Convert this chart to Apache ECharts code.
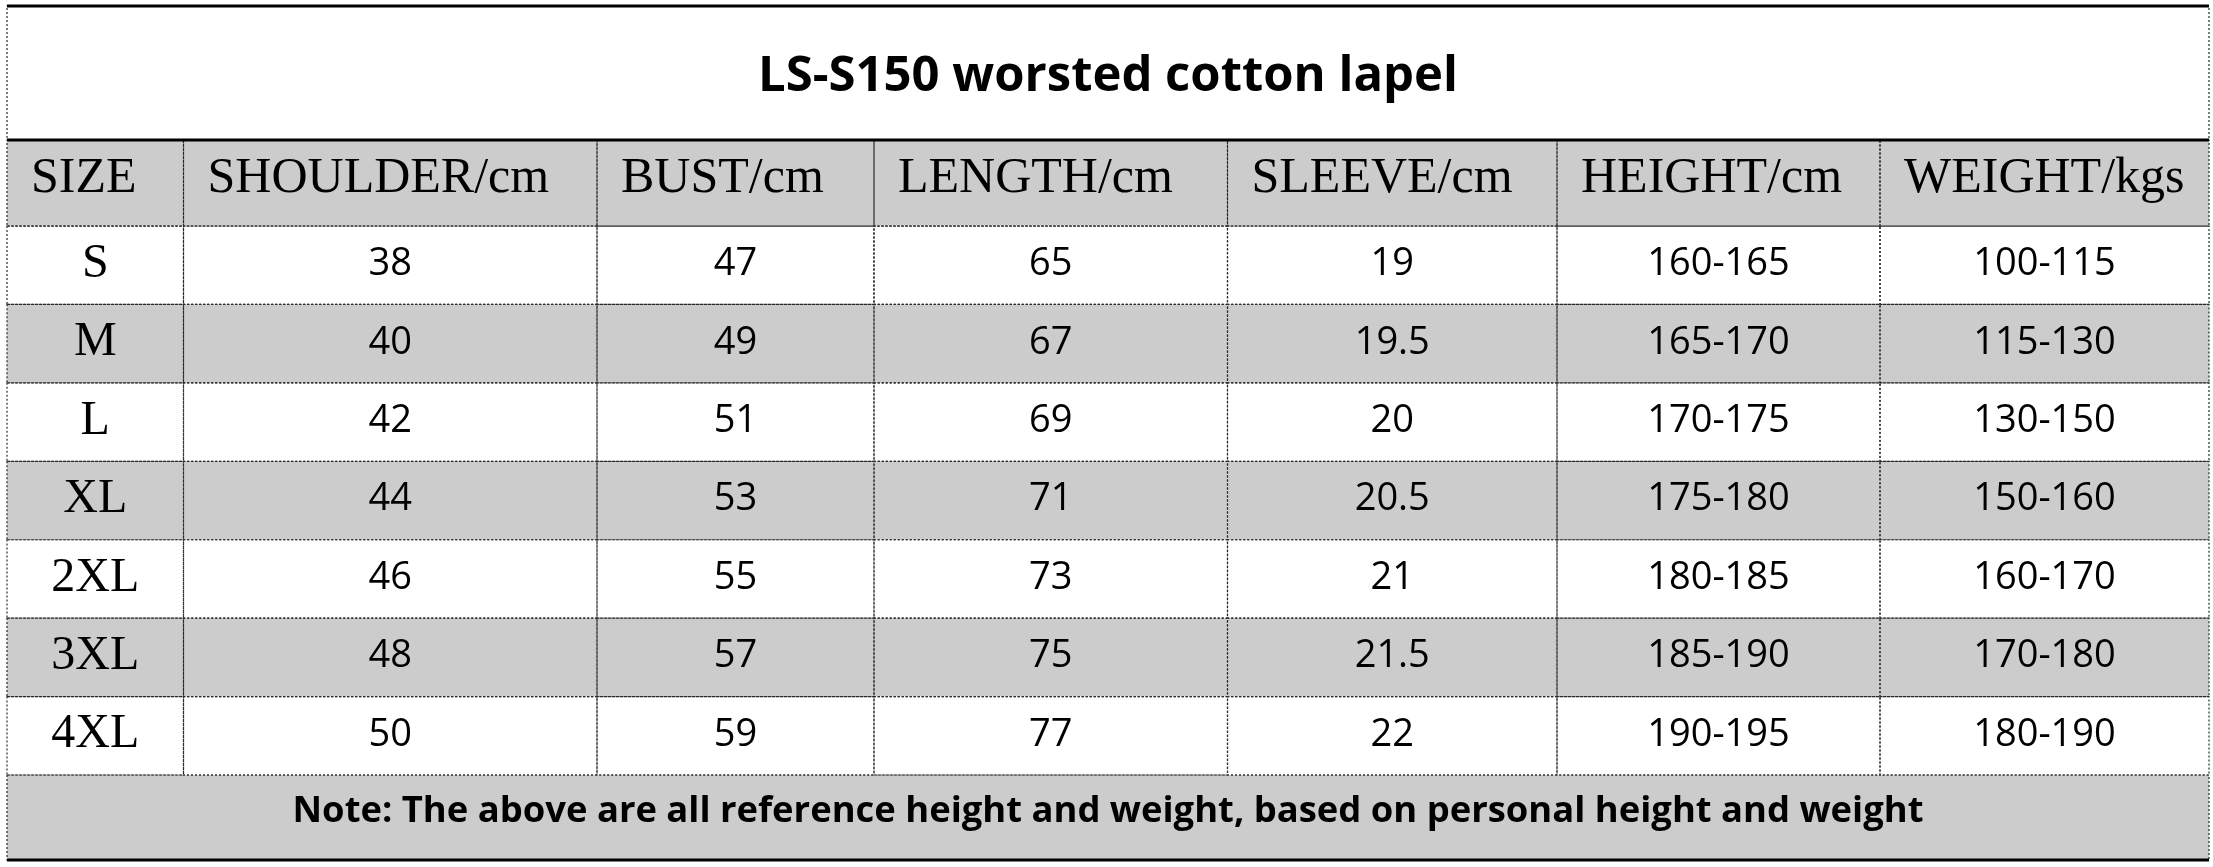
<!DOCTYPE html>
<html>
<head>
<meta charset="utf-8">
<script src="https://cdn.jsdelivr.net/npm/echarts@6/dist/echarts.min.js"></script>
<style>
html,body{margin:0;padding:0;background:#fff;}
#main{width:2213px;height:867px;}
</style>
</head>
<body>
<div id="main"></div>
<script>
// ---------- data ----------
const title = 'LS-S150 worsted cotton lapel';
const headers = ['SIZE', 'SHOULDER/cm', 'BUST/cm', 'LENGTH/cm', 'SLEEVE/cm', 'HEIGHT/cm', 'WEIGHT/kgs'];
const sizes = ['S', 'M', 'L', 'XL', '2XL', '3XL', '4XL'];
const shoulder = [38, 40, 42, 44, 46, 48, 50];
const bust = [47, 49, 51, 53, 55, 57, 59];
const lengthCm = [65, 67, 69, 71, 73, 75, 77];
const sleeve = [19, 19.5, 20, 20.5, 21, 21.5, 22];
const heightRange = ['160-165', '165-170', '170-175', '175-180', '180-185', '185-190', '190-195'];
const weightRange = ['100-115', '115-130', '130-150', '150-160', '160-170', '170-180', '180-190'];
const note = 'Note: The above are all reference height and weight, based on personal height and weight';

// ---------- layout (sizes in axis units) ----------
const layout = {
  colWidths: [176.5, 413.5, 277, 353.5, 329.5, 323, 329],
  titleH: 134,
  headerH: 86,
  rowH: 78.4,
  noteH: 85
};
const colEdges = [0];
layout.colWidths.forEach(w => colEdges.push(colEdges[colEdges.length - 1] + w));
const rowEdges = [0, layout.titleH, layout.titleH + layout.headerH];
sizes.forEach(() => rowEdges.push(rowEdges[rowEdges.length - 1] + layout.rowH));
rowEdges.push(rowEdges[rowEdges.length - 1] + layout.noteH);
const totalW = colEdges[colEdges.length - 1];
const totalH = rowEdges[rowEdges.length - 1];

const GRAY = '#cccccc';
const styles = {
  title: { font: 'bold 49px "Open Sans"', align: 'center', dy: 4 },
  header: { font: '50px "Liberation Serif"', align: 'left', dy: -4 },
  size: { font: '48px "Liberation Serif"', align: 'center', dy: -1 },
  value: { font: '38px "Open Sans"', align: 'center', dy: -1 },
  note: { font: 'bold 36.4px "Open Sans"', align: 'center', dy: -6 }
};

// ---------- cells ----------
const cells = [];
function addCell(c0, c1, r0, r1, text, kind, fill) {
  cells.push({ value: [colEdges[c0], colEdges[c1], rowEdges[r0], rowEdges[r1]], text: String(text), kind: kind, fill: fill });
}
addCell(0, 7, 0, 1, title, 'title', '#ffffff');
headers.forEach((h, i) => addCell(i, i + 1, 1, 2, h, 'header', GRAY));
const columns = [sizes, shoulder, bust, lengthCm, sleeve, heightRange, weightRange];
sizes.forEach((s, r) => {
  const fill = r % 2 === 1 ? GRAY : '#ffffff';
  columns.forEach((col, c) => addCell(c, c + 1, r + 2, r + 3, col[r], c === 0 ? 'size' : 'value', fill));
});
addCell(0, 7, rowEdges.length - 2, rowEdges.length - 1, note, 'note', GRAY);

const thickRows = [0, 1, rowEdges.length - 1];

function renderCell(params, api) {
  const cell = cells[params.dataIndex];
  const a = api.coord([api.value(0), api.value(2)]);
  const b = api.coord([api.value(1), api.value(3)]);
  const x = a[0], y = Math.min(a[1], b[1]);
  const w = b[0] - a[0], h = Math.abs(b[1] - a[1]);
  const st = styles[cell.kind];
  const tx = st.align === 'left' ? x + 24 : x + w / 2;
  return {
    type: 'group',
    children: [
      { type: 'rect', shape: { x: x, y: y, width: w, height: h }, style: { fill: cell.fill } },
      { type: 'rect', shape: { x: x, y: y, width: w, height: h },
        style: { fill: null, stroke: '#2a2a2a', lineWidth: 1.2, lineDash: [2, 2] }, z2: 5 },
      { type: 'text', x: tx, y: y + h / 2 + st.dy, z2: 10,
        style: { text: cell.text, font: st.font, fill: '#000', align: st.align, verticalAlign: 'middle' } }
    ]
  };
}

function renderRule(params, api) {
  const a = api.coord([0, api.value(0)]);
  const b = api.coord([totalW, api.value(0)]);
  return { type: 'line', shape: { x1: a[0], y1: a[1], x2: b[0], y2: b[1] },
           style: { stroke: '#000', lineWidth: 3 }, z2: 20 };
}

const chart = echarts.init(document.getElementById('main'), null, { renderer: 'canvas' });
chart.setOption({
  animation: false,
  backgroundColor: '#ffffff',
  grid: { left: 7, right: 4, top: 6, bottom: 7 },
  xAxis: { type: 'value', min: 0, max: totalW, show: false },
  yAxis: { type: 'value', min: 0, max: totalH, inverse: true, show: false },
  series: [
    { type: 'custom', renderItem: renderCell, data: cells.map(c => c.value), clip: false, z: 1 },
    { type: 'custom', renderItem: renderRule, data: thickRows.map(r => [rowEdges[r]]), clip: false, z: 3 }
  ]
});
</script>
</body>
</html>
